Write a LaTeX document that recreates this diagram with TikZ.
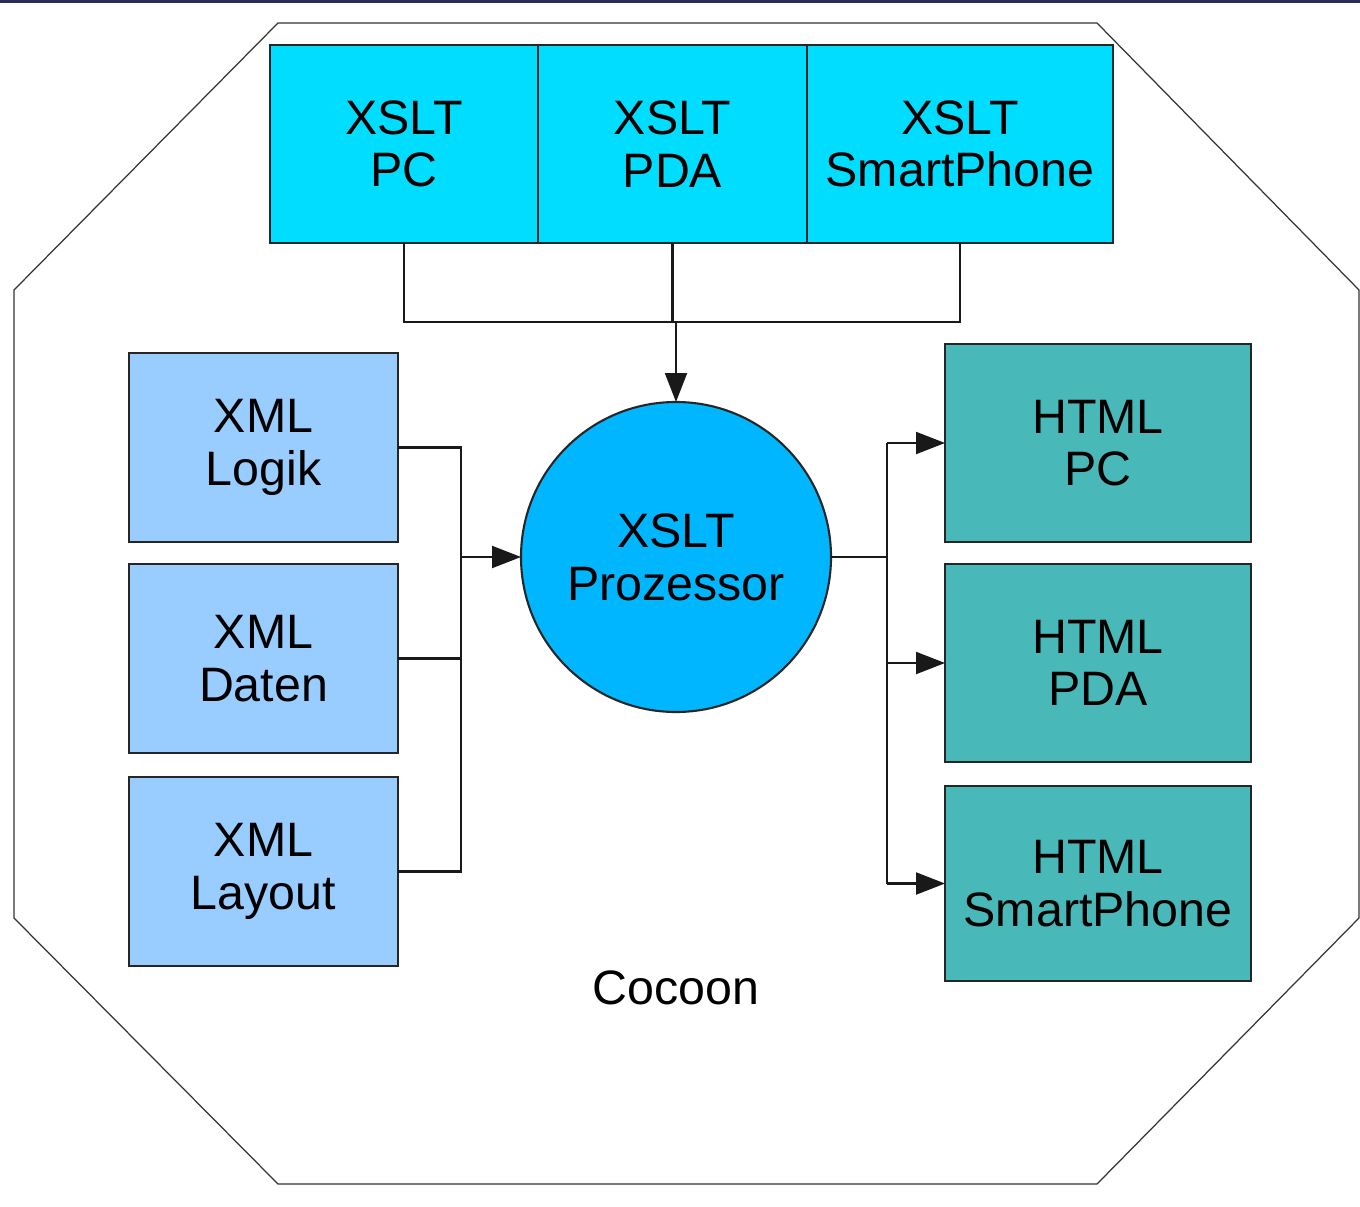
\documentclass[tikz,border=0pt]{standalone}
\usepackage{fontspec}
\setmainfont{Liberation Sans}
\usepackage{tikz}
\usetikzlibrary{positioning,arrows.meta}

\definecolor{xsltcyan}{HTML}{00DDFF}
\definecolor{prozblue}{HTML}{00B6FF}
\definecolor{xmlblue}{HTML}{99CCFF}
\definecolor{htmlteal}{HTML}{48B8B8}
\definecolor{topnavy}{HTML}{2B2B5C}

\tikzset{
  box/.style={draw=black!85,line width=1.2pt,inner sep=0pt,outer sep=0pt,align=center,
    font=\fontsize{27.5}{30}\selectfont},
  xsltbox/.style={box,fill=xsltcyan,minimum height=3.96cm},
  xmlbox/.style={box,fill=xmlblue,minimum width=5.38cm,minimum height=3.78cm},
  htmlbox/.style={box,fill=htmlteal,minimum width=6.12cm,minimum height=3.96cm},
  conn/.style={line width=1.2pt,black!90}
}

\begin{document}
\begin{tikzpicture}[>={Triangle[length=0.58cm,width=0.44cm]}]

\useasboundingbox (0,0) rectangle (27.2,-24.14);
\fill[topnavy] (0,0) rectangle (27.2,-0.07);

%octagon
\draw[black!80,line width=0.7pt] (5.56,-0.46) -- (21.94,-0.46) -- (27.18,-5.8) -- (27.18,-18.36)
  -- (21.94,-23.68) -- (5.56,-23.68) -- (0.28,-18.36) -- (0.28,-5.8) -- cycle;

\node[xsltbox,minimum width=5.36cm] (xpc) at (8.08,-2.88){XSLT\\PC};
\node[xsltbox,minimum width=5.38cm,right = 0cm of xpc](xpda){XSLT\\PDA};
\node[xsltbox,minimum width=6.12cm,right = 0cm of xpda](xsp){XSLT\\SmartPhone};

\node[box,circle,fill=prozblue,minimum size=6.2cm] (proz) at (13.52,-11.14){XSLT\\Prozessor};

\node[xmlbox] (xlogik) at (5.27,-8.95){XML\\Logik};
\node[xmlbox,below = 0.44cm of xlogik](xdaten){XML\\Daten};
\node[xmlbox,below = 0.48cm of xdaten](xlayout){XML\\Layout};

\node[htmlbox] (hpc) at (21.96,-8.86){HTML\\PC};
\node[htmlbox,below = 0.44cm of hpc](hpda){HTML\\PDA};
\node[htmlbox,below = 0.48cm of hpda,minimum height=3.9cm](hsp){HTML\\SmartPhone};

\node[font=\fontsize{27.5}{30}\selectfont] (cocoon) at (13.52,-19.76){Cocoon};

\coordinate (topbus) at (13.52,-6.44);
\coordinate (inbus) at (9.22,-11.14);
\coordinate (outbus) at (17.74,-11.14);

%xslt -> prozessor
\draw[conn] (xpc.south) |- (topbus) -| (xsp.south);
\draw[conn] (xpda.south) -- (xpda.south |- topbus);
\draw[conn,->] (topbus) -- (proz.north);

%xml -> prozessor
\draw[conn] (xlogik.east) -| (inbus |- xlayout.east) -- (xlayout.east);
\draw[conn] (xdaten.east) -- (xdaten.east -| inbus);
\draw[conn,->] (inbus) -- (proz.west);

%prozessor -> html
\draw[conn] (proz.east) -- (outbus);
\draw[conn] (outbus |- hpc.west) -- (outbus |- hsp.west);
\foreach \b in {hpc,hpda,hsp}
  \draw[conn,->] (outbus |- \b.west) -- (\b.west);

\end{tikzpicture}
\end{document}
